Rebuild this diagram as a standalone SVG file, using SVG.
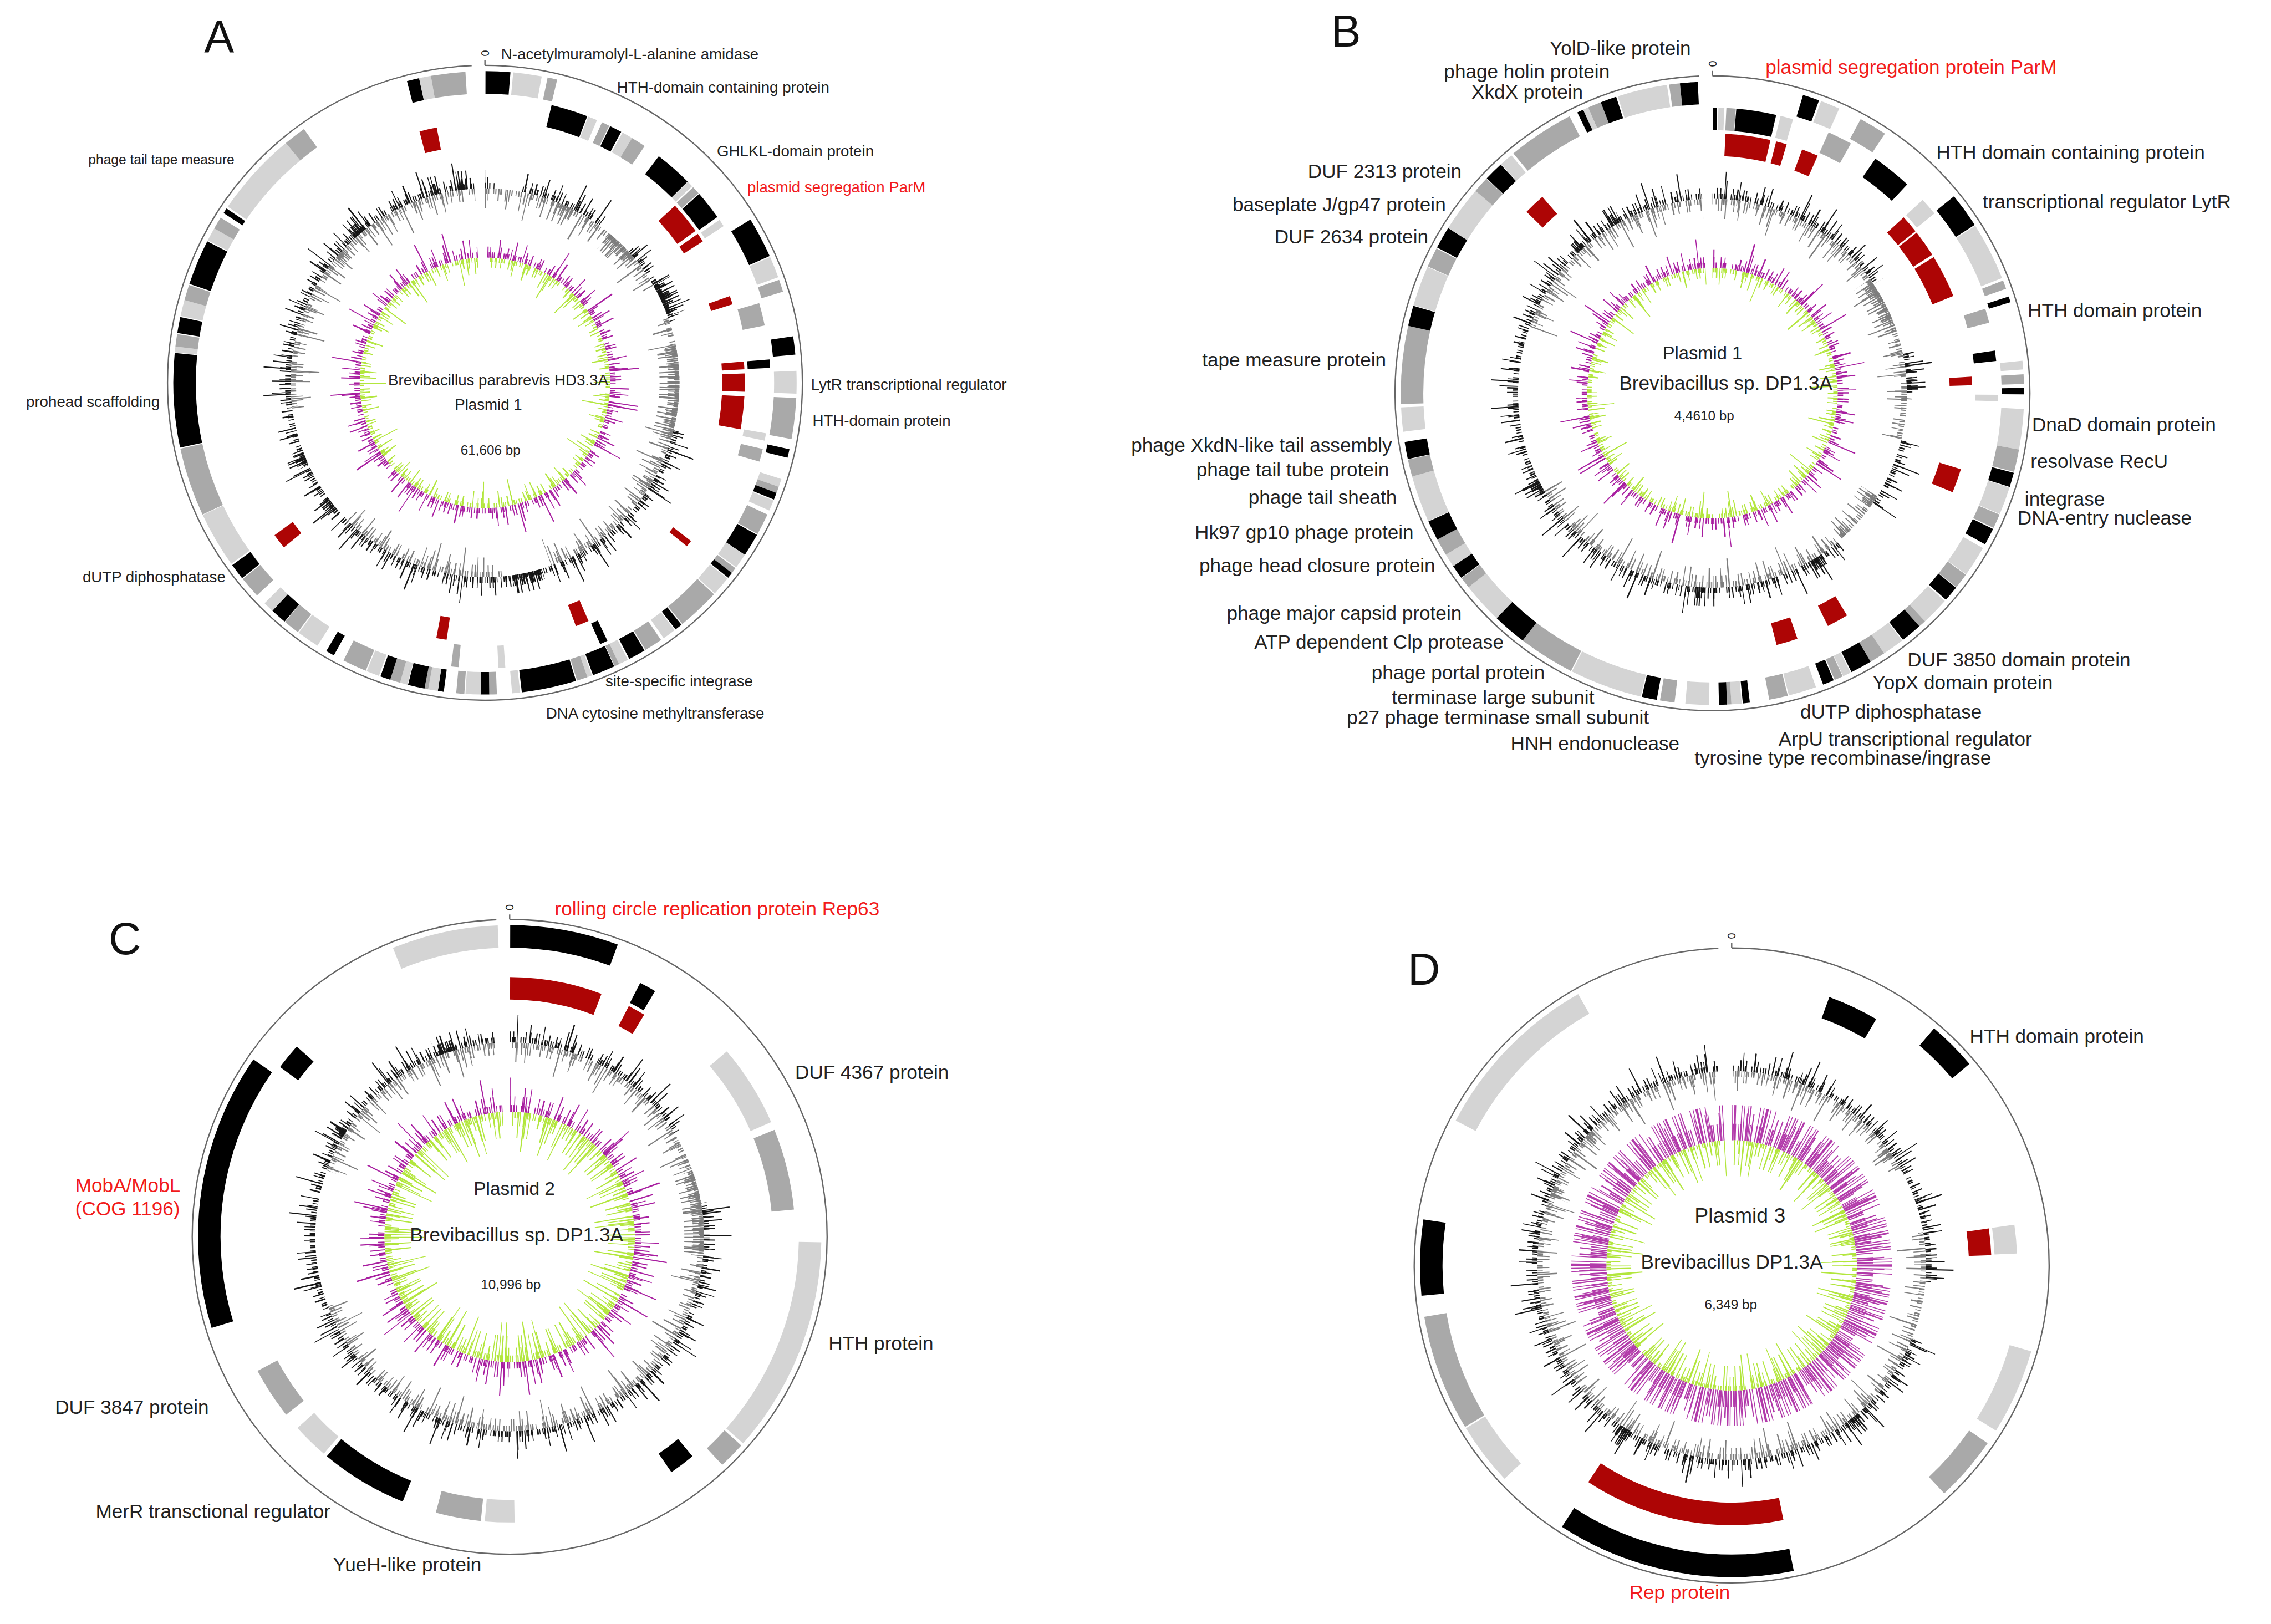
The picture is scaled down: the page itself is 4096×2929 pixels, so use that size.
<svg xmlns="http://www.w3.org/2000/svg" width="4096" height="2929" viewBox="0 0 4096 2929">
<style>
circle{fill:none}
.k{stroke:#000}.g{stroke:#a9a9a9}.l{stroke:#d4d4d4}.r{stroke:#ad0505}
.bk{stroke:#151515}.gy{stroke:#7d7d7d}.m{stroke:#a81ea0}.y{stroke:#b2e63c}.m3{stroke:#b23aaa}
.dA{stroke-dasharray:2 2 1.5 5 2 1 3 3 1.5 7 2 2 2 4 1.5 1.5 3 9 2 3 1.5 2 2 6 1.5 3 2.5 2 2 11 1.5 4 3 1 2 5}
.dB{stroke-dasharray:2 7 1.5 13 2 4 2 21 1.5 6 2.5 9 2 3 1.5 17 2 11 2 5 1.5 26 2.5 8 2 14 1.5 3 2 19 2 6}
.dC{stroke-dasharray:2 23 1.5 41 2 12 2 67 1.5 19 2.5 33 2 9 1.5 52 2 28 2 15 1.5 74 2.5 37}
.dD{stroke-dasharray:2 83 1.5 151 2 47 2 217 1.5 96 2.5 129 2 61}
.dE{stroke-dasharray:1.5 3 1.5 4 2 2 1.5 6 1.5 2 3 9 1.5 3 1.5 5 1.5 2 2 14 1.5 4 1.5 3 4 3 1.5 7 1.5 22}
.dF{stroke-dasharray:2.5 1}
.dG{stroke-dasharray:2 2 2.5 1 2 5 2 3 2 1 2.5 7}
.dH{stroke-dasharray:2 6 2 11 2 4 2 16 2 8}
.ol{stroke:#666;stroke-width:2.4;stroke-dasharray:357.6 2.4}
.tk{stroke:#666;stroke-width:2.4}
text{font-family:"Liberation Sans",Arial,sans-serif;fill:#222}
.a{font-size:10.6px}.b{font-size:13.45px}.red{fill:#f21b1b}.s{font-size:9.3px}.big{font-size:31px;fill:#111}
.o{font-size:20px}
</style>
<defs>
<circle id="r1" r="547" pathLength="360" transform="rotate(-90)" stroke-width="41"/>
<circle id="r2" r="499.5" pathLength="360" transform="rotate(-90)" stroke-width="41"/>
<circle id="r3" r="452.5" pathLength="360" transform="rotate(-90)" stroke-width="41"/>
<circle id="rim" r="578" pathLength="360" transform="rotate(-90)" class="ol"/>
<circle id="sec" r="310" stroke-width="620" stroke="#000" pathLength="360" transform="rotate(-90)"/>
<circle id="sw" r="310" stroke-width="620" stroke="#fff" pathLength="360" transform="rotate(-90)"/>
<rect id="wh" x="-620" y="-620" width="1240" height="1240" fill="#fff"/>
<mask id="top" maskUnits="userSpaceOnUse" x="-620" y="-620" width="1240" height="1240"><use href="#wh"/><use href="#sec" stroke-dasharray="0 356.8 3.2 999"/></mask>
<mask id="aO" maskUnits="userSpaceOnUse" x="-620" y="-620" width="1240" height="1240"><use href="#wh"/><use href="#sec" stroke-dasharray="0 3 8 25 11 25 32 253 3 999"/></mask>
<mask id="aI" maskUnits="userSpaceOnUse" x="-620" y="-620" width="1240" height="1240"><use href="#wh"/><use href="#sec" stroke-dasharray="0 60 10 90 15 50 37 95 3 999"/></mask>
<mask id="bO" maskUnits="userSpaceOnUse" x="-620" y="-620" width="1240" height="1240"><use href="#wh"/><use href="#sec" stroke-dasharray="0 56 22 14 12 21 15 217 3 999"/></mask>
<mask id="bI" maskUnits="userSpaceOnUse" x="-620" y="-620" width="1240" height="1240"><use href="#wh"/><use href="#sec" stroke-dasharray="0 104 18 118 50 67 3 999"/></mask>
<mask id="cO" maskUnits="userSpaceOnUse" x="-620" y="-620" width="1240" height="1240"><use href="#wh"/><use href="#sec" stroke-dasharray="0 58 22 276 4 999"/></mask>
<mask id="cI" maskUnits="userSpaceOnUse" x="-620" y="-620" width="1240" height="1240"><use href="#wh"/><use href="#sec" stroke-dasharray="0 250 40 66 4 999"/></mask>
<mask id="dO" maskUnits="userSpaceOnUse" x="-620" y="-620" width="1240" height="1240"><use href="#wh"/><use href="#sec" stroke-dasharray="0 95 17 244 4 999"/></mask>
<mask id="dI" maskUnits="userSpaceOnUse" x="-620" y="-620" width="1240" height="1240"><use href="#wh"/><use href="#sec" stroke-dasharray="0 60 20 276 4 999"/></mask>
<mask id="aDO" maskUnits="userSpaceOnUse" x="-620" y="-620" width="1240" height="1240"><use href="#sw" stroke-dasharray="0 60 10 93 9 58 4 11 4 69 4 23 2 5 3 999"/></mask>
<mask id="aDI" maskUnits="userSpaceOnUse" x="-620" y="-620" width="1240" height="1240"><use href="#sw" stroke-dasharray="0 22 5 13 10 29 28 13 3 187 3 999"/></mask>
<mask id="bDO" maskUnits="userSpaceOnUse" x="-620" y="-620" width="1240" height="1240"><use href="#sw" stroke-dasharray="0 86 3 57 4 32 3 55 4 72 3 10 3 999"/></mask>
<mask id="bDI" maskUnits="userSpaceOnUse" x="-620" y="-620" width="1240" height="1240"><use href="#sw" stroke-dasharray="0 54 15 53 4 9 3 999"/></mask>
<mask id="cDO" maskUnits="userSpaceOnUse" x="-620" y="-620" width="1240" height="1240"><use href="#sw" stroke-dasharray="0 300 3 35 6 999"/></mask>
<mask id="cDI" maskUnits="userSpaceOnUse" x="-620" y="-620" width="1240" height="1240"><use href="#sw" stroke-dasharray="0 70 25 999"/></mask>
<mask id="dDO" maskUnits="userSpaceOnUse" x="-620" y="-620" width="1240" height="1240"><use href="#sw" stroke-dasharray="0 140 3 68 4 999"/></mask>
<mask id="dDI" maskUnits="userSpaceOnUse" x="-620" y="-620" width="1240" height="1240"><use href="#sw" stroke-dasharray="0 53 3 235 3 17 3 999"/></mask>
<g id="gcO" class="bk">
<circle class="dA" r="359" stroke-width="10"/><circle class="dB" r="364" stroke-width="20"/><circle class="dC" r="371" stroke-width="34"/><circle class="dD" r="379" stroke-width="50"/>
</g>
<g id="gcI" class="gy">
<circle class="dA" r="349" stroke-width="10"/><circle class="dB" r="343" stroke-width="22"/><circle class="dC" r="336" stroke-width="36"/><circle class="dD" r="328" stroke-width="52"/>
</g>
<g id="dnO" class="bk">
<circle class="dF" r="358" stroke-width="8"/><circle class="dG" r="364" stroke-width="20"/><circle class="dH" r="371" stroke-width="34"/>
</g>
<g id="dnI" class="gy">
<circle class="dF" r="350" stroke-width="8"/><circle class="dG" r="344" stroke-width="20"/><circle class="dH" r="336" stroke-width="36"/>
</g>
<g id="skN">
<g class="m"><circle class="dA" r="233" stroke-width="10"/><circle class="dB" r="238" stroke-width="20"/><circle class="dC" r="245" stroke-width="34"/><circle class="dD" r="255" stroke-width="54"/></g>
<g class="y"><circle class="dA" r="224" stroke-width="8"/><circle class="dB" r="219" stroke-width="18"/><circle class="dC" r="213" stroke-width="30"/><circle class="dD" r="204" stroke-width="48"/></g>
</g>
<g id="skC">
<g class="m"><circle class="dA" r="234" stroke-width="12"/><circle class="dB" r="242" stroke-width="28"/><circle class="dC" r="250" stroke-width="44"/><circle class="dD" r="259" stroke-width="62"/></g>
<g class="y"><circle class="dA" r="222" stroke-width="12"/><circle class="dB" r="215" stroke-width="26"/><circle class="dB" r="204" stroke-width="48" stroke-dashoffset="37"/><circle class="dC" r="192" stroke-width="72"/></g>
</g>
<g id="skD">
<g class="m3"><circle class="dA" r="243" stroke-width="30"/><circle class="dB" r="253" stroke-width="50"/><circle class="dE" r="260" stroke-width="64"/></g>
<g class="y"><circle class="dA" r="224" stroke-width="8"/><circle class="dB" r="215.5" stroke-width="25"/><circle class="dB" r="205.5" stroke-width="45" stroke-dashoffset="53"/><circle class="dC" r="195.5" stroke-width="65"/></g>
</g>
</defs>
<g transform="scale(0.99057)">
<g id="plasmid-a" transform="translate(883 697)">
<use href="#rim"/><path class="tk" d="M0-578V-587"/><text class="o" transform="translate(0 -600) rotate(90)" text-anchor="middle" y="7">0</text>
<g mask="url(#aO)"><use href="#gcO" transform="rotate(20)"/></g>
<g mask="url(#aI)"><use href="#gcI" transform="rotate(55)"/></g>
<g mask="url(#aDO)"><use href="#dnO"/></g>
<g mask="url(#aDI)"><use href="#dnI"/></g>
<g mask="url(#top)"><use href="#skN" transform="rotate(10)"/></g>
<g id="a-ring1">
<use href="#r1" class="k" stroke-dasharray="0 .1 4.6 999"/><use href="#r1" class="l" stroke-dasharray="0 5.2 5.3 999"/><use href="#r1" class="g" stroke-dasharray="0 11.6 1.8 999"/><use href="#r1" class="k" stroke-dasharray="0 58.4 7.6 999"/><use href="#r1" class="l" stroke-dasharray="0 66.2 4 999"/><use href="#r1" class="g" stroke-dasharray="0 70.7 2.3 999"/><use href="#r1" class="k" stroke-dasharray="0 81.4 3.4 999"/><use href="#r1" class="l" stroke-dasharray="0 87.8 4.2 999"/><use href="#r1" class="g" stroke-dasharray="0 92.8 7.6 999"/><use href="#r1" class="k" stroke-dasharray="0 102.3 1.6 999"/><use href="#r1" class="l" stroke-dasharray="0 108 1.5 999"/><use href="#r1" class="g" stroke-dasharray="0 109.5 1.2 999"/><use href="#r1" class="k" stroke-dasharray="0 110.7 1.3 999"/><use href="#r1" class="l" stroke-dasharray="0 112.2 2 999"/><use href="#r1" class="g" stroke-dasharray="0 115 4 999"/><use href="#r1" class="k" stroke-dasharray="0 119.2 4.3 999"/><use href="#r1" class="l" stroke-dasharray="0 123.5 2.8 999"/><use href="#r1" class="g" stroke-dasharray="0 126.5 1.1 999"/><use href="#r1" class="k" stroke-dasharray="0 127.6 1.1 999"/><use href="#r1" class="l" stroke-dasharray="0 128.9 3.6 999"/><use href="#r1" class="g" stroke-dasharray="0 132.7 8 999"/><use href="#r1" class="k" stroke-dasharray="0 140.9 1.4 999"/><use href="#r1" class="l" stroke-dasharray="0 142.5 2.5 999"/><use href="#r1" class="g" stroke-dasharray="0 145.6 3.4 999"/><use href="#r1" class="k" stroke-dasharray="0 149.2 3.2 999"/><use href="#r1" class="l" stroke-dasharray="0 152.7 1.8 999"/><use href="#r1" class="g" stroke-dasharray="0 154.5 .9 999"/><use href="#r1" class="k" stroke-dasharray="0 155.5 4.2 999"/><use href="#r1" class="l" stroke-dasharray="0 159.9 .9 999"/><use href="#r1" class="g" stroke-dasharray="0 160.8 2 999"/><use href="#r1" class="k" stroke-dasharray="0 163 10.2 999"/><use href="#r1" class="l" stroke-dasharray="0 173.5 1.5 999"/><use href="#r1" class="g" stroke-dasharray="0 177.8 1.4 999"/><use href="#r1" class="k" stroke-dasharray="0 179.2 1.6 999"/><use href="#r1" class="l" stroke-dasharray="0 180.8 2.8 999"/><use href="#r1" class="g" stroke-dasharray="0 183.8 1.5 999"/><use href="#r1" class="k" stroke-dasharray="0 187.6 1.1 999"/><use href="#r1" class="l" stroke-dasharray="0 188.7 1.8 999"/><use href="#r1" class="g" stroke-dasharray="0 190.5 .7 999"/><use href="#r1" class="k" stroke-dasharray="0 191.2 3.1 999"/><use href="#r1" class="l" stroke-dasharray="0 194.4 1.4 999"/><use href="#r1" class="g" stroke-dasharray="0 195.8 1.9 999"/><use href="#r1" class="k" stroke-dasharray="0 197.7 1.9 999"/><use href="#r1" class="l" stroke-dasharray="0 199.9 2.4 999"/><use href="#r1" class="g" stroke-dasharray="0 202.5 4.5 999"/><use href="#r1" class="k" stroke-dasharray="0 209 1.6 999"/><use href="#r1" class="l" stroke-dasharray="0 212.5 4.2 999"/><use href="#r1" class="g" stroke-dasharray="0 216.9 3 999"/><use href="#r1" class="k" stroke-dasharray="0 220 3 999"/><use href="#r1" class="l" stroke-dasharray="0 223 2 999"/><use href="#r1" class="g" stroke-dasharray="0 227 4 999"/><use href="#r1" class="k" stroke-dasharray="0 231.2 3 999"/><use href="#r1" class="l" stroke-dasharray="0 234.5 10.4 999"/><use href="#r1" class="g" stroke-dasharray="0 245 12.8 999"/><use href="#r1" class="k" stroke-dasharray="0 258 17.5 999"/><use href="#r1" class="l" stroke-dasharray="0 275.6 1.1 999"/><use href="#r1" class="g" stroke-dasharray="0 276.7 2.3 999"/><use href="#r1" class="k" stroke-dasharray="0 279.2 3 999"/><use href="#r1" class="l" stroke-dasharray="0 282.4 3 999"/><use href="#r1" class="g" stroke-dasharray="0 285.4 2.9 999"/><use href="#r1" class="k" stroke-dasharray="0 288.5 8.5 999"/><use href="#r1" class="l" stroke-dasharray="0 297.2 2.5 999"/><use href="#r1" class="g" stroke-dasharray="0 299.7 2.3 999"/><use href="#r1" class="k" stroke-dasharray="0 303 1 999"/><use href="#r1" class="l" stroke-dasharray="0 304.4 15.9 999"/><use href="#r1" class="g" stroke-dasharray="0 320.3 4.2 999"/><use href="#r1" class="k" stroke-dasharray="0 345.5 2.3 999"/><use href="#r1" class="l" stroke-dasharray="0 347.8 2.2 999"/><use href="#r1" class="g" stroke-dasharray="0 350 6.4 999"/>
</g>
<g id="a-ring2">
<use href="#r2" class="k" stroke-dasharray="0 13.5 7.5 999"/><use href="#r2" class="l" stroke-dasharray="0 21.2 1.9 999"/><use href="#r2" class="g" stroke-dasharray="0 24.2 1.6 999"/><use href="#r2" class="k" stroke-dasharray="0 26 2.5 999"/><use href="#r2" class="l" stroke-dasharray="0 28.8 2.2 999"/><use href="#r2" class="g" stroke-dasharray="0 31 3 999"/><use href="#r2" class="k" stroke-dasharray="0 37.5 7.7 999"/><use href="#r2" class="l" stroke-dasharray="0 45.3 1.2 999"/><use href="#r2" class="g" stroke-dasharray="0 46.8 1.6 999"/><use href="#r2" class="k" stroke-dasharray="0 48.6 5.9 999"/><use href="#r2" class="l" stroke-dasharray="0 55.2 1.5 999"/><use href="#r2" class="g" stroke-dasharray="0 73.8 4.6 999"/><use href="#r2" class="k" stroke-dasharray="0 85.3 1.7 999"/><use href="#r2" class="l" stroke-dasharray="0 100.2 1.5 999"/><use href="#r2" class="g" stroke-dasharray="0 103.4 2.6 999"/><use href="#r2" class="k" stroke-dasharray="0 154.6 1.6 999"/><use href="#r2" class="g" stroke-dasharray="0 185.3 1.5 999"/><use href="#r2" class="l" stroke-dasharray="0 175.9 1.4 999"/>
</g>
<g id="a-ring3">
<use href="#r3" class="r" stroke-dasharray="0 47 7.2 999"/><use href="#r3" class="r" stroke-dasharray="0 55 2 999"/><use href="#r3" class="r" stroke-dasharray="0 70.5 1.9 999"/><use href="#r3" class="r" stroke-dasharray="0 85.3 1.7 999"/><use href="#r3" class="r" stroke-dasharray="0 87.9 4.1 999"/><use href="#r3" class="r" stroke-dasharray="0 93 7.3 999"/><use href="#r3" class="r" stroke-dasharray="0 127.5 1.5 999"/><use href="#r3" class="r" stroke-dasharray="0 156.5 3 999"/><use href="#r3" class="r" stroke-dasharray="0 188.5 2.3 999"/><use href="#r3" class="r" stroke-dasharray="0 230.7 3.4 999"/><use href="#r3" class="r" stroke-dasharray="0 345.4 3.9 999"/>
</g>
</g>
<g id="plasmid-b" transform="translate(3118 716)">
<use href="#rim"/><path class="tk" d="M0-578V-587"/><text class="o" transform="translate(0 -600) rotate(90)" text-anchor="middle" y="7">0</text>
<g mask="url(#bO)"><use href="#gcO" transform="rotate(140)"/></g>
<g mask="url(#bI)"><use href="#gcI" transform="rotate(200)"/></g>
<g mask="url(#bDO)"><use href="#dnO"/></g>
<g mask="url(#bDI)"><use href="#dnI"/></g>
<g mask="url(#top)"><use href="#skN" transform="rotate(150)"/></g>
<g id="b-ring1">
<use href="#r1" class="k" stroke-dasharray="0 16.9 3.1 999"/><use href="#r1" class="l" stroke-dasharray="0 20.4 3.6 999"/><use href="#r1" class="g" stroke-dasharray="0 28.4 5.2 999"/><use href="#r1" class="k" stroke-dasharray="0 50.8 6.5 999"/><use href="#r1" class="l" stroke-dasharray="0 57.5 10.8 999"/><use href="#r1" class="g" stroke-dasharray="0 68.8 1.6 999"/><use href="#r1" class="k" stroke-dasharray="0 71.9 1.1 999"/><use href="#r1" class="l" stroke-dasharray="0 84 1.6 999"/><use href="#r1" class="g" stroke-dasharray="0 86.5 1.8 999"/><use href="#r1" class="k" stroke-dasharray="0 89 1.2 999"/><use href="#r1" class="l" stroke-dasharray="0 92.9 7.5 999"/><use href="#r1" class="g" stroke-dasharray="0 100.4 4.2 999"/><use href="#r1" class="k" stroke-dasharray="0 104.8 2.7 999"/><use href="#r1" class="l" stroke-dasharray="0 107.6 5.2 999"/><use href="#r1" class="g" stroke-dasharray="0 112.9 2.7 999"/><use href="#r1" class="k" stroke-dasharray="0 115.8 3.2 999"/><use href="#r1" class="l" stroke-dasharray="0 119.8 5.7 999"/><use href="#r1" class="g" stroke-dasharray="0 125.6 2.9 999"/><use href="#r1" class="k" stroke-dasharray="0 128.6 2.9 999"/><use href="#r1" class="l" stroke-dasharray="0 131.8 5.2 999"/><use href="#r1" class="g" stroke-dasharray="0 137 1.4 999"/><use href="#r1" class="k" stroke-dasharray="0 138.4 3.9 999"/><use href="#r1" class="l" stroke-dasharray="0 142.5 4.2 999"/><use href="#r1" class="g" stroke-dasharray="0 146.6 2.9 999"/><use href="#r1" class="k" stroke-dasharray="0 149.5 4 999"/><use href="#r1" class="l" stroke-dasharray="0 153.7 1.5 999"/><use href="#r1" class="g" stroke-dasharray="0 155.3 1.6 999"/><use href="#r1" class="k" stroke-dasharray="0 157.1 2.1 999"/><use href="#r1" class="l" stroke-dasharray="0 160.6 5.2 999"/><use href="#r1" class="g" stroke-dasharray="0 166 3.5 999"/><use href="#r1" class="k" stroke-dasharray="0 173.1 1.3 999"/><use href="#r1" class="l" stroke-dasharray="0 174.6 1.9 999"/><use href="#r1" class="g" stroke-dasharray="0 176.5 1 999"/><use href="#r1" class="k" stroke-dasharray="0 177.3 1.5 999"/><use href="#r1" class="l" stroke-dasharray="0 180.6 4.4 999"/><use href="#r1" class="g" stroke-dasharray="0 187 2.7 999"/><use href="#r1" class="k" stroke-dasharray="0 190.3 2.8 999"/><use href="#r1" class="l" stroke-dasharray="0 193.3 13.5 999"/><use href="#r1" class="g" stroke-dasharray="0 207 10.5 999"/><use href="#r1" class="k" stroke-dasharray="0 217.5 6.5 999"/><use href="#r1" class="l" stroke-dasharray="0 223.8 7.7 999"/><use href="#r1" class="g" stroke-dasharray="0 231.5 2.1 999"/><use href="#r1" class="k" stroke-dasharray="0 233.7 2.6 999"/><use href="#r1" class="l" stroke-dasharray="0 236.3 2.5 999"/><use href="#r1" class="g" stroke-dasharray="0 238.8 3.2 999"/><use href="#r1" class="k" stroke-dasharray="0 242 3.7 999"/><use href="#r1" class="l" stroke-dasharray="0 245.8 8.7 999"/><use href="#r1" class="g" stroke-dasharray="0 254.5 3.2 999"/><use href="#r1" class="k" stroke-dasharray="0 257.8 3.2 999"/><use href="#r1" class="l" stroke-dasharray="0 262.9 4.5 999"/><use href="#r1" class="g" stroke-dasharray="0 268 14.5 999"/><use href="#r1" class="k" stroke-dasharray="0 282.5 3.8 999"/><use href="#r1" class="l" stroke-dasharray="0 286.4 7.5 999"/><use href="#r1" class="g" stroke-dasharray="0 294 3.7 999"/><use href="#r1" class="k" stroke-dasharray="0 297.9 4.1 999"/><use href="#r1" class="l" stroke-dasharray="0 302 8.5 999"/><use href="#r1" class="g" stroke-dasharray="0 310.5 3 999"/><use href="#r1" class="k" stroke-dasharray="0 313.6 3.6 999"/><use href="#r1" class="l" stroke-dasharray="0 317.3 2.5 999"/><use href="#r1" class="g" stroke-dasharray="0 320.3 12.4 999"/><use href="#r1" class="k" stroke-dasharray="0 334.3 1.2 999"/><use href="#r1" class="l" stroke-dasharray="0 335.5 1 999"/><use href="#r1" class="g" stroke-dasharray="0 336.5 2.5 999"/><use href="#r1" class="k" stroke-dasharray="0 339 3 999"/><use href="#r1" class="l" stroke-dasharray="0 342.3 9.3 999"/><use href="#r1" class="g" stroke-dasharray="0 352 2 999"/><use href="#r1" class="k" stroke-dasharray="0 354 3.3 999"/>
</g>
<g id="b-ring2">
<use href="#r2" class="k" stroke-dasharray="0 .1 .8 999"/><use href="#r2" class="l" stroke-dasharray="0 1.2 1.2 999"/><use href="#r2" class="g" stroke-dasharray="0 2.8 1.9 999"/><use href="#r2" class="k" stroke-dasharray="0 4.8 8.1 999"/><use href="#r2" class="l" stroke-dasharray="0 13.8 2.6 999"/><use href="#r2" class="g" stroke-dasharray="0 24 5 999"/><use href="#r2" class="k" stroke-dasharray="0 34.8 8.2 999"/><use href="#r2" class="l" stroke-dasharray="0 47.4 3.6 999"/><use href="#r2" class="g" stroke-dasharray="0 72.8 2.9 999"/><use href="#r2" class="k" stroke-dasharray="0 81.4 2.1 999"/><use href="#r2" class="l" stroke-dasharray="0 90.3 1.3 999"/>
</g>
<g id="b-ring3">
<use href="#r3" class="r" stroke-dasharray="0 2.9 10 999"/><use href="#r3" class="r" stroke-dasharray="0 14.2 2.4 999"/><use href="#r3" class="r" stroke-dasharray="0 20.2 3.7 999"/><use href="#r3" class="r" stroke-dasharray="0 47.4 4 999"/><use href="#r3" class="r" stroke-dasharray="0 51.8 6 999"/><use href="#r3" class="r" stroke-dasharray="0 58.4 9.6 999"/><use href="#r3" class="r" stroke-dasharray="0 86.3 1.9 999"/><use href="#r3" class="r" stroke-dasharray="0 107 5.4 999"/><use href="#r3" class="r" stroke-dasharray="0 148.8 4.8 999"/><use href="#r3" class="r" stroke-dasharray="0 160.9 4.8 999"/><use href="#r3" class="r" stroke-dasharray="0 314.3 4.8 999"/>
</g>
</g>
<g id="plasmid-c" transform="translate(928 2252)">
<use href="#rim"/><path class="tk" d="M0-578V-587"/><text class="o" transform="translate(0 -600) rotate(90)" text-anchor="middle" y="7">0</text>
<g mask="url(#cO)"><use href="#gcO" transform="rotate(75)"/></g>
<g mask="url(#cI)"><use href="#gcI" transform="rotate(285)"/></g>
<g mask="url(#cDO)"><use href="#dnO"/></g>
<g mask="url(#cDI)"><use href="#dnI"/></g>
<g mask="url(#top)"><use href="#skC" transform="rotate(30)"/></g>
<g id="c-ring1">
<use href="#r1" class="k" stroke-dasharray="0 .1 20.2 999"/><use href="#r1" class="l" stroke-dasharray="0 91 40.5 999"/><use href="#r1" class="g" stroke-dasharray="0 132 5 999"/><use href="#r1" class="k" stroke-dasharray="0 253 51.7 999"/><use href="#r1" class="l" stroke-dasharray="0 338 19.8 999"/>
</g>
<g id="c-ring2">
<use href="#r2" class="k" stroke-dasharray="0 27.2 3.4 999"/><use href="#r2" class="l" stroke-dasharray="0 49.5 16.8 999"/><use href="#r2" class="g" stroke-dasharray="0 68 16.5 999"/><use href="#r2" class="k" stroke-dasharray="0 140.2 5.3 999"/><use href="#r2" class="l" stroke-dasharray="0 179 6 999"/><use href="#r2" class="g" stroke-dasharray="0 185.8 9.2 999"/><use href="#r2" class="k" stroke-dasharray="0 202 17.8 999"/><use href="#r2" class="l" stroke-dasharray="0 220.6 7.4 999"/><use href="#r2" class="g" stroke-dasharray="0 231.5 10.5 999"/><use href="#r2" class="k" stroke-dasharray="0 306.5 5.3 999"/>
</g>
<g id="c-ring3">
<use href="#r3" class="r" stroke-dasharray="0 .1 20.6 999"/><use href="#r3" class="r" stroke-dasharray="0 27.3 3.9 999"/>
</g>
</g>
<g id="plasmid-d" transform="translate(3153 2304)">
<use href="#rim"/><path class="tk" d="M0-578V-587"/><text class="o" transform="translate(0 -600) rotate(90)" text-anchor="middle" y="7">0</text>
<g mask="url(#dO)"><use href="#gcO" transform="rotate(250)"/></g>
<g mask="url(#dI)"><use href="#gcI" transform="rotate(110)"/></g>
<g mask="url(#dDO)"><use href="#dnO"/></g>
<g mask="url(#dDI)"><use href="#dnI"/></g>
<g mask="url(#top)"><use href="#skD" transform="rotate(60)"/></g>
<g id="d-ring1">
<use href="#r1" class="k" stroke-dasharray="0 40.5 9.2 999"/><use href="#r1" class="l" stroke-dasharray="0 106 16 999"/><use href="#r1" class="g" stroke-dasharray="0 124.8 12.2 999"/><use href="#r1" class="k" stroke-dasharray="0 168.5 44.5 999"/><use href="#r1" class="l" stroke-dasharray="0 226.8 11.7 999"/><use href="#r1" class="g" stroke-dasharray="0 238.8 21.7 999"/><use href="#r1" class="k" stroke-dasharray="0 264.4 14.1 999"/><use href="#r1" class="l" stroke-dasharray="0 297.7 32.8 999"/>
</g>
<g id="d-ring2">
<use href="#r2" class="k" stroke-dasharray="0 20 10.4 999"/><use href="#r2" class="l" stroke-dasharray="0 81.8 5.8 999"/>
</g>
<g id="d-ring3">
<use href="#r3" class="r" stroke-dasharray="0 81.8 5.9 999"/><use href="#r3" class="r" stroke-dasharray="0 168.5 45 999"/>
</g>
</g>
</g>
<g id="labels" transform="scale(2.6122)">
<text class="big" x="141" y="36">A</text>
<text class="big" x="919" y="32">B</text>
<text class="big" x="75" y="659">C</text>
<text class="big" x="972" y="680">D</text>
<g class="a">
<text x="346" y="41">N-acetylmuramolyl-L-alanine amidase</text>
<text x="426" y="64">HTH-domain containing protein</text>
<text x="495" y="108">GHLKL-domain protein</text>
<text class="red" x="516" y="133">plasmid segregation ParM</text>
<text style="font-size:9.4px" x="61" y="113.5">phage tail tape measure</text>
<text x="18" y="281">prohead scaffolding</text>
<text x="560" y="269">LytR transcriptional regulator</text>
<text x="561" y="294">HTH-domain protein</text>
<text x="57" y="402">dUTP diphosphatase</text>
<text x="418" y="474">site-specific integrase</text>
<text x="377" y="496">DNA cytosine methyltransferase</text>
<text x="268" y="266">Brevibacillus parabrevis HD3.3A</text>
<text x="314" y="283">Plasmid 1</text>
<text class="s" x="318" y="314">61,606 bp</text>
</g>
<g class="b">
<text x="1070" y="38">YolD-like protein</text>
<text x="997" y="54">phage holin protein</text>
<text x="1016" y="68">XkdX protein</text>
<text class="red" x="1219" y="51">plasmid segregation protein ParM</text>
<text x="903" y="123">DUF 2313 protein</text>
<text x="851" y="146">baseplate J/gp47 protein</text>
<text x="880" y="168">DUF 2634 protein</text>
<text x="1337" y="110">HTH domain containing protein</text>
<text x="1369" y="144">transcriptional regulator LytR</text>
<text x="1400" y="219">HTH domain protein</text>
<text x="830" y="253">tape measure protein</text>
<text x="1403" y="298">DnaD domain protein</text>
<text x="1402" y="323">resolvase RecU</text>
<text x="1398" y="349">integrase</text>
<text x="1393" y="362">DNA-entry nuclease</text>
<text x="781" y="312">phage XkdN-like tail assembly</text>
<text x="826" y="329">phage tail tube protein</text>
<text x="862" y="348">phage tail sheath</text>
<text x="825" y="372">Hk97 gp10 phage protein</text>
<text x="828" y="395">phage head closure protein</text>
<text x="847" y="428">phage major capsid protein</text>
<text x="866" y="448">ATP dependent Clp protease</text>
<text x="947" y="469">phage portal protein</text>
<text x="961" y="486">terminase large subunit</text>
<text x="930" y="500">p27 phage terminase small subunit</text>
<text x="1043" y="518">HNH endonuclease</text>
<text x="1317" y="460">DUF 3850 domain protein</text>
<text x="1293" y="476">YopX domain protein</text>
<text x="1243" y="496">dUTP diphosphatase</text>
<text x="1228" y="515">ArpU transcriptional regulator</text>
<text x="1170" y="528">tyrosine type recombinase/ingrase</text>
<text style="font-size:12.5px" x="1148" y="248">Plasmid 1</text>
<text x="1118" y="269">Brevibacillus sp. DP1.3A</text>
<text class="s" x="1156" y="290">4,4610 bp</text>
<text class="red" x="383" y="632">rolling circle replication protein Rep63</text>
<text x="549" y="745">DUF 4367 protein</text>
<text class="red" x="52" y="823">MobA/MobL</text>
<text class="red" x="52" y="839">(COG 1196)</text>
<text x="572" y="932">HTH protein</text>
<text x="38" y="976">DUF 3847 protein</text>
<text x="66" y="1048">MerR transctional regulator</text>
<text x="230" y="1085">YueH-like protein</text>
<text style="font-size:12.8px" x="327" y="825">Plasmid 2</text>
<text x="283" y="857">Brevibacillus sp. DP1.3A</text>
<text class="s" x="332" y="890">10,996 bp</text>
<text x="1360" y="720">HTH domain protein</text>
<text class="red" x="1125" y="1104">Rep protein</text>
<text style="font-size:14.3px" x="1170" y="844">Plasmid 3</text>
<text x="1133" y="876">Brevibacillus DP1.3A</text>
<text class="s" x="1177" y="904">6,349 bp</text>
</g>
</g>
</svg>
